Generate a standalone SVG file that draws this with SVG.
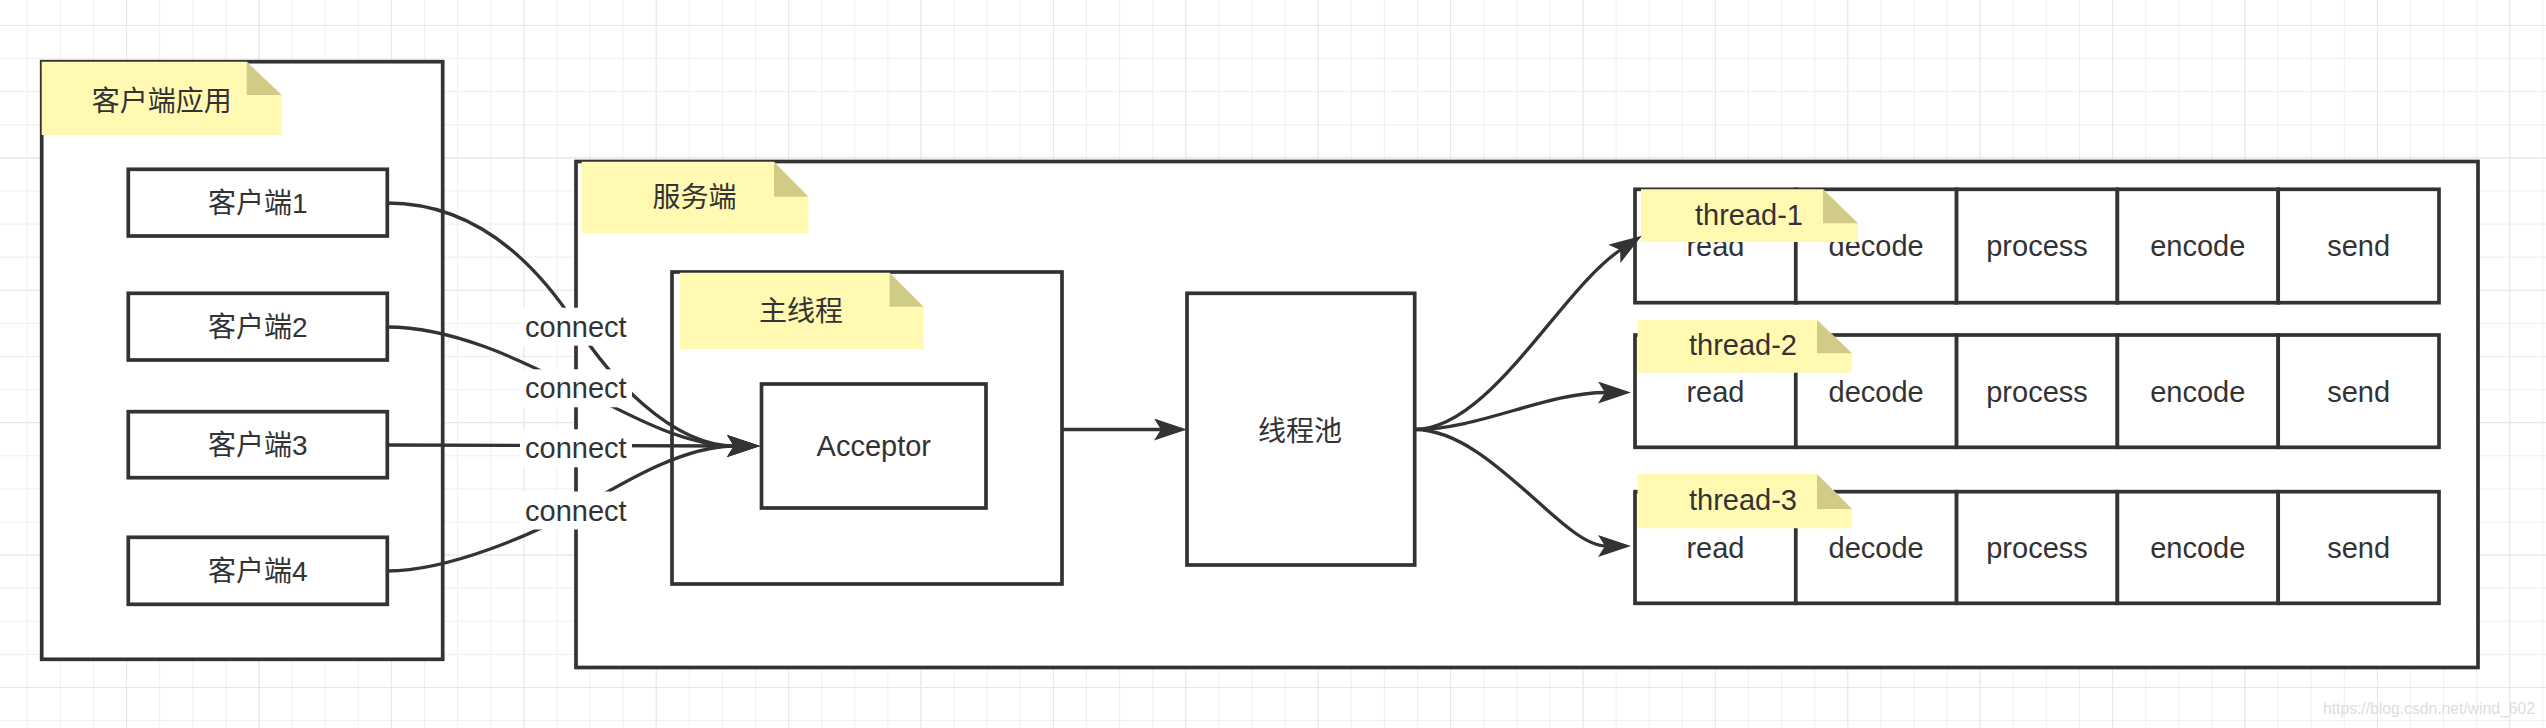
<svg xmlns="http://www.w3.org/2000/svg" width="2546" height="728" viewBox="0 0 2546 728">
<defs>
<pattern id="gridMinor" patternUnits="userSpaceOnUse" x="26.8" y="25" width="33.1" height="33.1">
<path d="M0,0 H33.1 M0,0 V33.1" fill="none" stroke="#eeeeee" stroke-width="1.8"/>
</pattern>
<pattern id="gridMajor" patternUnits="userSpaceOnUse" x="126.1" y="25" width="132.4" height="132.4">
<path d="M0,0 H132.4 M0,0 V132.4" fill="none" stroke="#e6e6e6" stroke-width="1.8"/>
</pattern>
<marker id="arr" markerUnits="userSpaceOnUse" markerWidth="34" markerHeight="22" viewBox="0 0 34 22" refX="8" refY="11" orient="auto">
<path d="M0,0 L33,11 L0,22 L7,11 z" fill="#333333"/>
</marker>
<style>
.box{fill:#ffffff;stroke:#333333;stroke-width:3.7}
.note{fill:#fff9b2}
.fold{fill:#d0cc88}
.cjk{font-family:"Liberation Sans","Noto Sans CJK SC",sans-serif;font-size:28px;fill:#333333;text-anchor:middle}
.lat{font-family:"Liberation Sans",Arial,sans-serif;font-size:29px;fill:#333333;text-anchor:middle}
.edge{fill:none;stroke:#333333;stroke-width:3.3}
.lblbg{fill:#ffffff}
</style>
</defs>

<rect x="0" y="0" width="2546" height="728" fill="#ffffff"/>
<rect x="0" y="0" width="2546" height="728" fill="url(#gridMinor)"/>
<rect x="0" y="0" width="2546" height="728" fill="url(#gridMajor)"/>

<g id="client-app">
<rect class="box" x="41.7" y="61.7" width="401" height="597.6"/>
<polygon class="note" points="41.7,61.7 246.7,61.7 281.7,95 281.7,135 41.7,135"/>
<polygon class="fold" points="246.7,61.7 246.7,95 281.7,95"/>
<text class="cjk" x="161.7" y="110.5">客户端应用</text>
</g>

<g id="client1">
<rect class="box" x="128.3" y="169.3" width="259" height="66.7"/>
<text class="cjk" x="257.8" y="213.3">客户端1</text>
</g>
<g id="client2">
<rect class="box" x="128.3" y="293.3" width="259" height="66.7"/>
<text class="cjk" x="257.8" y="337.3">客户端2</text>
</g>
<g id="client3">
<rect class="box" x="128.3" y="411.7" width="259" height="66"/>
<text class="cjk" x="257.8" y="455.3">客户端3</text>
</g>
<g id="client4">
<rect class="box" x="128.3" y="537.3" width="259" height="67"/>
<text class="cjk" x="257.8" y="581.4">客户端4</text>
</g>

<g id="server">
<rect class="box" x="576" y="161.5" width="1902" height="506"/>
<polygon class="note" points="581.6,161.7 774,161.7 808.4,196.7 808.4,233.3 581.6,233.3"/>
<polygon class="fold" points="774,161.7 774,196.7 808.4,196.7"/>
<text class="cjk" x="694.6" y="206.5">服务端</text>
</g>

<g id="main-thread">
<rect class="box" x="672" y="272" width="390" height="312"/>
<polygon class="note" points="679.8,272.7 889.6,272.7 923.6,306.7 923.6,349.3 679.8,349.3"/>
<polygon class="fold" points="889.6,272.7 889.6,306.7 923.6,306.7"/>
<text class="cjk" x="801" y="320.6">主线程</text>
</g>

<g id="acceptor">
<rect class="box" x="761.5" y="384" width="224.5" height="124"/>
<text class="lat" x="873.8" y="456">Acceptor</text>
</g>

<g id="thread-pool">
<rect class="box" x="1187" y="293.3" width="227.7" height="271.7"/>
<text class="cjk" x="1300" y="440.6">线程池</text>
</g>

<g id="thread-1">
<rect class="box" x="1635" y="189.3" width="160.8" height="113.4"/>
<rect class="box" x="1795.8" y="189.3" width="160.8" height="113.4"/>
<rect class="box" x="1956.6" y="189.3" width="160.8" height="113.4"/>
<rect class="box" x="2117.4" y="189.3" width="160.8" height="113.4"/>
<rect class="box" x="2278.2" y="189.3" width="160.8" height="113.4"/>
<text class="lat" x="1715.4" y="256.4">read</text>
<text class="lat" x="1876.2" y="256.4">decode</text>
<text class="lat" x="2037" y="256.4">process</text>
<text class="lat" x="2197.8" y="256.4">encode</text>
<text class="lat" x="2358.6" y="256.4">send</text>
<polygon class="note" points="1641,189.3 1823,189.3 1858,223.3 1858,242 1641,242"/>
<polygon class="fold" points="1823,189.3 1823,223.3 1858,223.3"/>
<text class="lat" x="1749" y="225">thread-1</text>
</g>

<g id="thread-2">
<rect class="box" x="1635" y="335" width="160.8" height="112.3"/>
<rect class="box" x="1795.8" y="335" width="160.8" height="112.3"/>
<rect class="box" x="1956.6" y="335" width="160.8" height="112.3"/>
<rect class="box" x="2117.4" y="335" width="160.8" height="112.3"/>
<rect class="box" x="2278.2" y="335" width="160.8" height="112.3"/>
<text class="lat" x="1715.4" y="401.6">read</text>
<text class="lat" x="1876.2" y="401.6">decode</text>
<text class="lat" x="2037" y="401.6">process</text>
<text class="lat" x="2197.8" y="401.6">encode</text>
<text class="lat" x="2358.6" y="401.6">send</text>
<polygon class="note" points="1637.5,320 1817,320 1852,353.3 1852,372.7 1637.5,372.7"/>
<polygon class="fold" points="1817,320 1817,353.3 1852,353.3"/>
<text class="lat" x="1743" y="355">thread-2</text>
</g>

<g id="thread-3">
<rect class="box" x="1635" y="491.7" width="160.8" height="111.6"/>
<rect class="box" x="1795.8" y="491.7" width="160.8" height="111.6"/>
<rect class="box" x="1956.6" y="491.7" width="160.8" height="111.6"/>
<rect class="box" x="2117.4" y="491.7" width="160.8" height="111.6"/>
<rect class="box" x="2278.2" y="491.7" width="160.8" height="111.6"/>
<text class="lat" x="1715.4" y="557.9">read</text>
<text class="lat" x="1876.2" y="557.9">decode</text>
<text class="lat" x="2037" y="557.9">process</text>
<text class="lat" x="2197.8" y="557.9">encode</text>
<text class="lat" x="2358.6" y="557.9">send</text>
<polygon class="note" points="1637.5,474 1817,474 1852,509 1852,528.3 1637.5,528.3"/>
<polygon class="fold" points="1817,474 1817,509 1852,509"/>
<text class="lat" x="1743" y="510">thread-3</text>
</g>

<g id="connectors">
<path class="edge" marker-end="url(#arr)" d="M387.3,203 C490,203 550,285 576,325 C608,375 670,446 735,446"/>
<path class="edge" marker-end="url(#arr)" d="M387.3,327 C460,327 536,368.4 576,388 C616,407.6 680,446 735,446"/>
<path class="edge" marker-end="url(#arr)" d="M387.3,445 L735,446"/>
<path class="edge" marker-end="url(#arr)" d="M387.3,571 C450,571 536,532.8 576,510 C616,487.2 680,446 735,446"/>
<path class="edge" marker-end="url(#arr)" d="M1062,429.5 H1162"/>
<path class="edge" marker-end="url(#arr)" d="M1414.7,429.5 C1490,429.5 1560,290 1621,249.5"/>
<path class="edge" marker-end="url(#arr)" d="M1414.7,429.5 C1480,429.5 1545,392.5 1606,392.5"/>
<path class="edge" marker-end="url(#arr)" d="M1414.7,429.5 C1490,429.5 1562,546 1606,546"/>
<g id="edge-labels">
<rect class="lblbg" x="520" y="307.7" width="112" height="38"/>
<text class="lat" x="575.8" y="336.7">connect</text>
<rect class="lblbg" x="520" y="369.3" width="112" height="38"/>
<text class="lat" x="575.8" y="398.3">connect</text>
<rect class="lblbg" x="520" y="429.3" width="112" height="38"/>
<text class="lat" x="575.8" y="458.3">connect</text>
<rect class="lblbg" x="520" y="491.5" width="112" height="38"/>
<text class="lat" x="575.8" y="520.5">connect</text>
</g>
</g>

<text x="2323" y="714" font-family="'Liberation Sans',Arial,sans-serif" font-size="15.7" fill="#dddddd">https://blog.csdn.net/wind_602</text>
</svg>
